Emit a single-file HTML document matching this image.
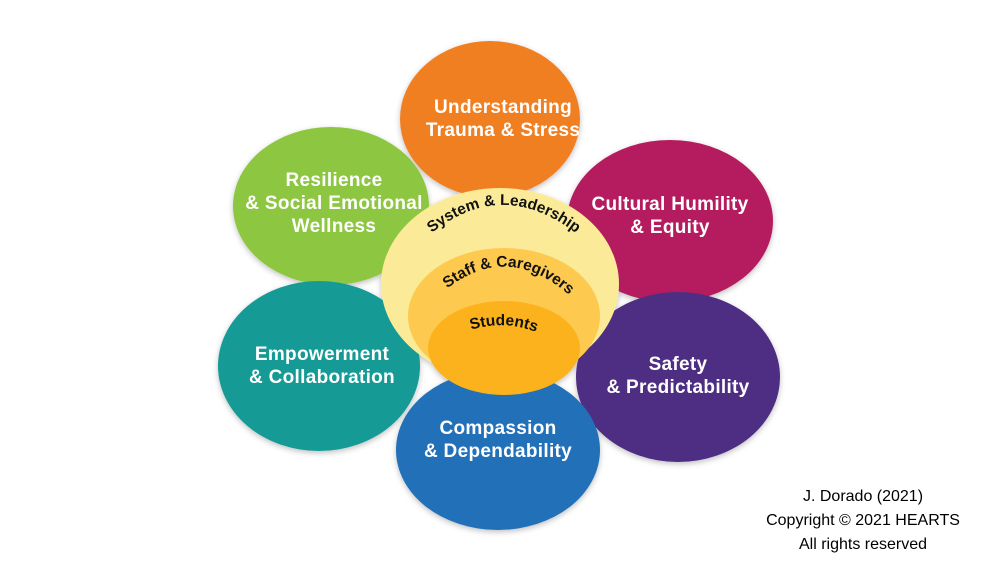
<!DOCTYPE html>
<html><head><style>
body{margin:0;background:#fff;width:1000px;height:563px;overflow:hidden;font-family:"Liberation Sans",Arial,sans-serif}
svg text{font-family:"Liberation Sans",Arial,sans-serif;font-weight:bold}
</style></head><body>
<svg width="1000" height="563" viewBox="0 0 1000 563">
<defs>
<filter id="sh" x="-20%" y="-20%" width="140%" height="140%"><feDropShadow dx="0" dy="2" stdDeviation="3" flood-color="#000" flood-opacity="0.25"/></filter>
<path id="p1" d="M418,245 Q502,165 590,245"/>
<path id="p2" d="M436,298 Q507,232 580,305"/>
<path id="p3" d="M462,333 Q505,316 545,336"/>
</defs>
<g filter="url(#sh)">
<ellipse cx="490" cy="119" rx="90" ry="78" fill="#f07f22"/>
<ellipse cx="331" cy="206" rx="98" ry="79" fill="#8dc63f"/>
<ellipse cx="670" cy="221" rx="103" ry="81" fill="#b51f5e"/>
<ellipse cx="319" cy="366" rx="101" ry="85" fill="#149a96"/>
<ellipse cx="678" cy="377" rx="102" ry="85" fill="#4e2e82"/>
<ellipse cx="498" cy="450" rx="102" ry="80" fill="#2170b8"/>
<ellipse cx="500" cy="284" rx="119" ry="96" fill="#fbeb99"/>
<ellipse cx="504" cy="316" rx="96" ry="68" fill="#fdca50"/>
<ellipse cx="504" cy="348" rx="76" ry="47" fill="#fbb21a"/>
</g>
<g fill="#fff" font-size="19" text-anchor="middle" letter-spacing="0.3">
<text x="503" y="113">Understanding</text><text x="503" y="136">Trauma &amp; Stress</text>
<text x="334" y="186">Resilience</text><text x="334" y="209">&amp; Social Emotional</text><text x="334" y="232">Wellness</text>
<text x="670" y="210">Cultural Humility</text><text x="670" y="233">&amp; Equity</text>
<text x="322" y="360">Empowerment</text><text x="322" y="383">&amp; Collaboration</text>
<text x="678" y="370">Safety</text><text x="678" y="393">&amp; Predictability</text>
<text x="498" y="434">Compassion</text><text x="498" y="457">&amp; Dependability</text>
</g>
<g fill="#111" font-size="15.5">
<text><textPath href="#p1" startOffset="50%" text-anchor="middle">System &amp; Leadership</textPath></text>
<text><textPath href="#p2" startOffset="50%" text-anchor="middle">Staff &amp; Caregivers</textPath></text>
<text><textPath href="#p3" startOffset="50%" text-anchor="middle">Students</textPath></text>
</g>
<g font-size="16" text-anchor="middle" fill="#000">
<text x="863" y="501" style="font-weight:normal">J. Dorado (2021)</text>
<text x="863" y="525" style="font-weight:normal">Copyright © 2021 HEARTS</text>
<text x="863" y="549" style="font-weight:normal">All rights reserved</text>
</g>
</svg>
</body></html>
